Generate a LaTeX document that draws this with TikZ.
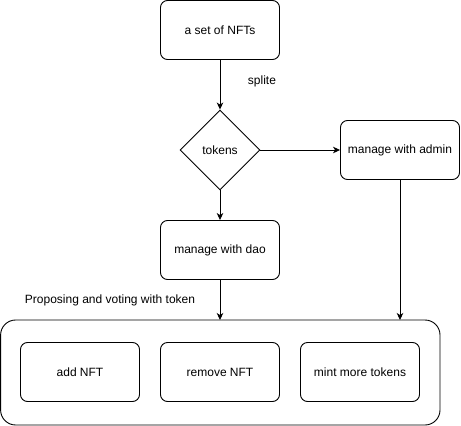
\documentclass[tikz,border=0pt]{standalone}
\usepackage{fontspec}
\setmainfont{Liberation Sans}
\usepackage{tikz}
\usetikzlibrary{arrows.meta,positioning,shapes.geometric}

\begin{document}
\begin{tikzpicture}[x=1pt,y=-1pt,font=\fontsize{12}{14}\selectfont,
	box/.style={draw,line width=0.9pt,rounded corners=7pt,minimum width=119pt,minimum height=59pt},
	choice/.style={draw,diamond,line width=0.9pt,inner sep=0pt,minimum width=80pt,minimum height=80pt},
	flow/.style={->,>={Stealth[length=7pt,width=6.5pt,inset=2pt]},line width=0.9pt}]
	% Fix the page size
	\useasboundingbox (0,0) rectangle (461,426);
	% Draw group
	\draw[line width=0.9pt,rounded corners=15pt] (0.6,320) rectangle (440,425);
	\coordinate (grouptop) at (220,320);
	% Draw nodes
	\node[box] (nfts) at (220,30) {a set of NFTs};
	\node[choice] (tokens) at (220,150) {tokens};
	\node[box] (admin) at (400,150) {manage with admin};
	\node[box] (dao) at (220,250) {manage with dao};
	\node[box] (add) at (80,372) {add NFT};
	\node[box] (remove) at (220,372) {remove NFT};
	\node[box] (mint) at (360,372) {mint more tokens};
	% Draw labels
	\node (split) at (262,81) {splite};
	\node (voting) at (110,300) {Proposing and voting with token};
	% Draw arrows
	\draw[flow] (nfts) -- (tokens);
	\draw[flow] (tokens) -- (admin);
	\draw[flow] (tokens) -- (dao);
	\draw[flow] (dao) -- (grouptop);
	\draw[flow] (admin) -- (admin.south |- grouptop);
\end{tikzpicture}
\end{document}
